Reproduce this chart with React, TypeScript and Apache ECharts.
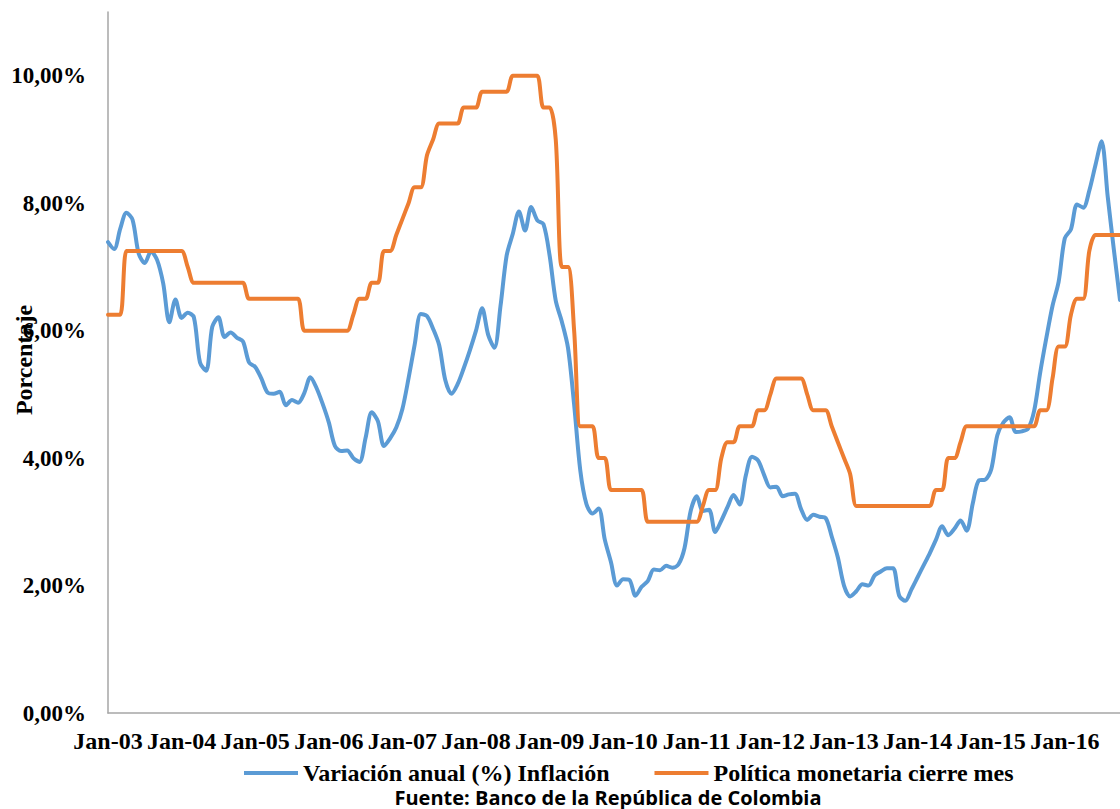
import React, { useEffect, useRef } from "react";
import * as echarts from "echarts";

const MONTHS = ["Jan", "Feb", "Mar", "Apr", "May", "Jun", "Jul", "Aug", "Sep", "Oct", "Nov", "Dec"];
const YEARS = ["03", "04", "05", "06", "07", "08", "09", "10", "11", "12", "13", "14", "15", "16"];
const LAST_MONTH_COUNT = 166; // Jan-03 .. Oct-16

// Variación anual (%) Inflación
const INFLACION = [
  7.39, 7.28, 7.60, 7.85, 7.74, 7.21, 7.06, 7.24, 7.11, 6.74, 6.13, 6.49,
  6.20, 6.28, 6.21, 5.50, 5.37, 6.06, 6.21, 5.90, 5.97, 5.89, 5.83, 5.50,
  5.43, 5.25, 5.03, 5.01, 5.04, 4.83, 4.91, 4.87, 5.02, 5.27, 5.10, 4.85,
  4.56, 4.19, 4.11, 4.12, 4.00, 3.94, 4.32, 4.72, 4.58, 4.19, 4.31, 4.48,
  4.77, 5.25, 5.78, 6.26, 6.23, 6.03, 5.77, 5.22, 5.01, 5.16, 5.41, 5.69,
  6.00, 6.35, 5.93, 5.73, 6.39, 7.18, 7.52, 7.87, 7.57, 7.94, 7.73, 7.67,
  7.18, 6.47, 6.14, 5.73, 4.84, 3.81, 3.28, 3.13, 3.21, 2.72, 2.37, 2.00,
  2.10, 2.09, 1.84, 1.98, 2.07, 2.25, 2.24, 2.31, 2.28, 2.33, 2.59, 3.17,
  3.40, 3.17, 3.19, 2.84, 3.02, 3.23, 3.42, 3.27, 3.73, 4.02, 3.96, 3.73,
  3.54, 3.55, 3.40, 3.43, 3.44, 3.20, 3.03, 3.11, 3.08, 3.06, 2.77, 2.44,
  2.00, 1.83, 1.91, 2.02, 2.00, 2.16, 2.22, 2.27, 2.27, 1.84, 1.76, 1.94,
  2.13, 2.32, 2.51, 2.72, 2.93, 2.79, 2.89, 3.02, 2.86, 3.29, 3.65, 3.66,
  3.82, 4.36, 4.56, 4.64, 4.41, 4.42, 4.46, 4.74, 5.35, 5.89, 6.39, 6.77,
  7.45, 7.59, 7.98, 7.93, 8.20, 8.60, 8.97, 8.10, 7.27, 6.48,
];

// Política monetaria cierre mes
const POLITICA = [
  6.25, 6.25, 6.25, 7.25, 7.25, 7.25, 7.25, 7.25, 7.25, 7.25, 7.25, 7.25,
  7.25, 7.00, 6.75, 6.75, 6.75, 6.75, 6.75, 6.75, 6.75, 6.75, 6.75, 6.50,
  6.50, 6.50, 6.50, 6.50, 6.50, 6.50, 6.50, 6.50, 6.00, 6.00, 6.00, 6.00,
  6.00, 6.00, 6.00, 6.00, 6.25, 6.50, 6.50, 6.75, 6.75, 7.25, 7.25, 7.50,
  7.75, 8.00, 8.25, 8.25, 8.75, 9.00, 9.25, 9.25, 9.25, 9.25, 9.50, 9.50,
  9.50, 9.75, 9.75, 9.75, 9.75, 9.75, 10.00, 10.00, 10.00, 10.00, 10.00, 9.50,
  9.50, 9.00, 7.00, 7.00, 6.00, 4.50, 4.50, 4.50, 4.00, 4.00, 3.50, 3.50,
  3.50, 3.50, 3.50, 3.50, 3.00, 3.00, 3.00, 3.00, 3.00, 3.00, 3.00, 3.00,
  3.00, 3.25, 3.50, 3.50, 4.00, 4.25, 4.25, 4.50, 4.50, 4.50, 4.75, 4.75,
  5.00, 5.25, 5.25, 5.25, 5.25, 5.25, 5.00, 4.75, 4.75, 4.75, 4.50, 4.25,
  4.00, 3.75, 3.25, 3.25, 3.25, 3.25, 3.25, 3.25, 3.25, 3.25, 3.25, 3.25,
  3.25, 3.25, 3.25, 3.50, 3.50, 4.00, 4.00, 4.25, 4.50, 4.50, 4.50, 4.50,
  4.50, 4.50, 4.50, 4.50, 4.50, 4.50, 4.50, 4.50, 4.75, 4.75, 5.25, 5.75,
  5.75, 6.25, 6.50, 6.50, 7.25, 7.50, 7.50, 7.50, 7.50, 7.50,
];

const CATEGORIES = YEARS.flatMap((y) => MONTHS.map((m) => `${m}-${y}`)).slice(0, LAST_MONTH_COUNT);

const SERIF = "'Liberation Serif', 'Times New Roman', serif";

export default function App() {
  const ref = useRef<HTMLDivElement>(null);

  useEffect(() => {
    if (!ref.current) return;
    const chart = echarts.init(ref.current, undefined, { renderer: "svg" });
    chart.setOption({
      animation: false,
      backgroundColor: "#ffffff",
      grid: { left: 108, right: 0, top: 12, bottom: 96, containLabel: false },
      xAxis: {
        type: "category",
        data: CATEGORIES,
        boundaryGap: false,
        axisLine: { show: true, lineStyle: { color: "#a6a6a6", width: 1.5 } },
        axisTick: { show: false },
        splitLine: { show: false },
        axisLabel: {
          interval: 11,
          margin: 16,
          color: "#000",
          fontFamily: SERIF,
          fontWeight: "bold",
          fontSize: 24,
        },
      },
      yAxis: {
        type: "value",
        min: 0,
        max: 11,
        interval: 2,
        axisLine: { show: true, lineStyle: { color: "#a6a6a6", width: 1.5 } },
        axisTick: { show: false },
        splitLine: { show: false },
        axisLabel: {
          margin: 22,
          color: "#000",
          fontFamily: SERIF,
          fontWeight: "bold",
          fontSize: 23,
          formatter: (v: number) => (v > 10.5 ? "" : v.toFixed(2).replace(".", ",") + "%"),
        },
      },
      legend: {
        left: 239,
        top: 756,
        itemGap: 45,
        itemWidth: 54,
        itemHeight: 4,
        icon: "rect",
        textStyle: { color: "#000", fontFamily: SERIF, fontWeight: "bold", fontSize: 24 },
        data: ["Variación anual (%) Inflación", "Política monetaria cierre mes"],
      },
      graphic: [
        {
          type: "text",
          x: 24,
          y: 360,
          rotation: Math.PI / 2,
          style: {
            text: "Porcentaje",
            align: "center",
            verticalAlign: "middle",
            fill: "#000",
            font: `bold 24px ${SERIF}`,
          },
        },
        {
          type: "text",
          x: 608,
          y: 797,
          style: {
            text: "Fuente: Banco de la República de Colombia",
            align: "center",
            verticalAlign: "middle",
            fill: "#000",
            font: "bold 20px 'Open Sans', Lato, sans-serif",
          },
        },
      ],
      series: [
        {
          name: "Variación anual (%) Inflación",
          type: "line",
          data: INFLACION,
          smooth: 0.3,
          showSymbol: false,
          lineStyle: { color: "#5B9BD5", width: 4, cap: "round", join: "round" },
          itemStyle: { color: "#5B9BD5" },
        },
        {
          name: "Política monetaria cierre mes",
          type: "line",
          data: POLITICA,
          smooth: 0.3,
          showSymbol: false,
          lineStyle: { color: "#ED7D31", width: 4, cap: "round", join: "round" },
          itemStyle: { color: "#ED7D31" },
        },
      ],
    });
    return () => chart.dispose();
  }, []);

  return (
    <div style={{ position: "absolute", left: 0, top: 0, width: 1120, height: 809, background: "#fff" }}>
      <div ref={ref} style={{ width: 1120, height: 809 }} />
    </div>
  );
}
